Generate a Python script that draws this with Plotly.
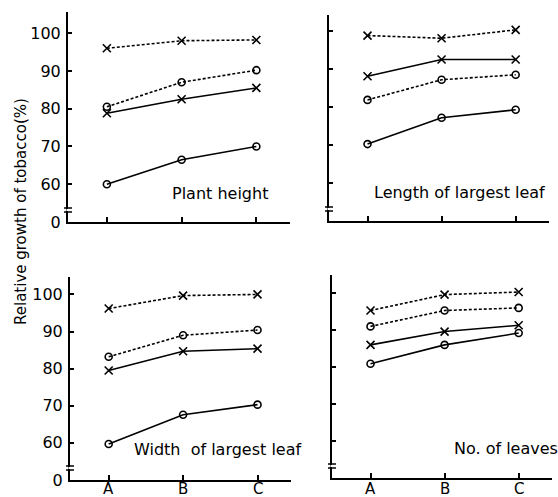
import plotly.graph_objects as go

categories = ["A", "B", "C"]
y_tick_vals = [50, 60, 70, 80, 90, 100]
y_tick_text = ["0", "60", "70", "80", "90", "100"]

# Plant height
ph_solid_o = [60.0, 66.5, 70.0]
ph_solid_x = [78.8, 82.5, 85.5]
ph_dot_o = [80.5, 87.0, 90.2]
ph_dot_x = [96.0, 98.0, 98.2]
# Length of largest leaf
ll_solid_o = [70.2, 77.1, 79.2]
ll_dot_o = [81.8, 87.1, 88.4]
ll_solid_x = [88.0, 92.4, 92.4]
ll_dot_x = [98.7, 98.0, 100.2]
# Width of largest leaf
wl_solid_o = [59.7, 67.6, 70.3]
wl_solid_x = [79.5, 84.7, 85.4]
wl_dot_o = [83.2, 89.0, 90.4]
wl_dot_x = [96.2, 99.7, 100.0]
# No. of leaves
nl_solid_o = [80.9, 86.0, 89.2]
nl_solid_x = [86.0, 89.6, 91.3]
nl_dot_o = [91.0, 95.3, 96.0]
nl_dot_x = [95.3, 99.6, 100.3]

FONT = "DejaVu Sans, Verdana, sans-serif"

panels = [
    dict(title="Plant height", data=[ph_solid_o, ph_solid_x, ph_dot_o, ph_dot_x],
         px=(68, 290), py=(12, 222), yr=(50, 105.6), labels_y=True, labels_x=False,
         tx=170, ty=193),
    dict(title="Length of largest leaf", data=[ll_solid_o, ll_solid_x, ll_dot_o, ll_dot_x],
         px=(329, 549), py=(15, 221), yr=(50, 104.1), labels_y=False, labels_x=False,
         tx=372, ty=192),
    dict(title="Width  of largest leaf", data=[wl_solid_o, wl_solid_x, wl_dot_o, wl_dot_x],
         px=(70, 291), py=(277, 480), yr=(50, 104.7), labels_y=True, labels_x=True,
         tx=132, ty=449),
    dict(title="No. of leaves", data=[nl_solid_o, nl_solid_x, nl_dot_o, nl_dot_x],
         px=(332, 552), py=(275, 478), yr=(50, 104.9), labels_y=False, labels_x=True,
         tx=452, ty=448),
]

W, H = 558, 497
styles = [
    dict(dash="solid", symbol="circle-open"),
    dict(dash="solid", symbol="x-thin-open"),
    dict(dash="3px,2px", symbol="circle-open"),
    dict(dash="3px,2px", symbol="x-thin-open"),
]

fig = go.Figure()
layout = dict(
    width=W, height=H, margin=dict(l=0, r=0, t=0, b=0, autoexpand=False),
    paper_bgcolor="white", plot_bgcolor="white", showlegend=False,
    font=dict(family=FONT, color="black"),
)
annotations = []
shapes = []
for i, p in enumerate(panels, start=1):
    xa = "x" if i == 1 else f"x{i}"
    ya = "y" if i == 1 else f"y{i}"
    for series, st in zip(p["data"], styles):
        fig.add_trace(go.Scatter(
            x=categories, y=series, xaxis=xa, yaxis=ya, mode="lines+markers",
            line=dict(color="black", width=1.6, dash=st["dash"]),
            marker=dict(symbol=st["symbol"], size=7 if "circle" in st["symbol"] else 8,
                        color="black", line=dict(color="black", width=1.6)),
            cliponaxis=False,
        ))
    xd = [p["px"][0] / W, p["px"][1] / W]
    yd = [1 - p["py"][1] / H, 1 - p["py"][0] / H]
    layout["xaxis" if i == 1 else f"xaxis{i}"] = dict(
        domain=xd, anchor=ya, type="category", range=[-0.52, 2.45],
        showline=True, linecolor="black", linewidth=2, mirror=False,
        ticks="inside", ticklen=5, tickwidth=1.5, tickcolor="black",
        showticklabels=False,
        showgrid=False, zeroline=False, fixedrange=True,
    )
    layout["yaxis" if i == 1 else f"yaxis{i}"] = dict(
        domain=yd, anchor=xa, range=list(p["yr"]),
        tickvals=y_tick_vals, ticktext=y_tick_text,
        showline=True, linecolor="black", linewidth=2,
        ticks="inside", ticklen=4, tickwidth=1.5, tickcolor="black",
        showticklabels=p["labels_y"], tickfont=dict(size=16, color="black", family=FONT),
        ticklabelstandoff=2,
        showgrid=False, zeroline=False, fixedrange=True,
    )
    if p["labels_x"]:
        for c in categories:
            annotations.append(dict(
                text=c, x=c, xref=xa, y=1 - 489 / H, yref="paper",
                xanchor="center", yanchor="middle", showarrow=False,
                font=dict(size=15, color="black", family=FONT),
            ))
    annotations.append(dict(
        text=p["title"], x=p["tx"] / W, y=1 - p["ty"] / H, xref="paper", yref="paper",
        xanchor="left", yanchor="middle", showarrow=False,
        font=dict(size=16, color="black", family=FONT),
    ))
    # axis break marks near bottom of y axis
    ax_x = p["px"][0] / W
    for off in (10, 14):
        yy = 1 - (p["py"][1] - off) / H
        shapes.append(dict(type="line", xref="paper", yref="paper",
                           x0=ax_x - 4 / W, x1=ax_x + 4 / W, y0=yy, y1=yy,
                           line=dict(color="black", width=1.5)))
    shapes.append(dict(type="line", xref="paper", yref="paper",
                       x0=ax_x, x1=ax_x, y0=1 - (p["py"][1] - 13) / H, y1=1 - (p["py"][1] - 11) / H,
                       line=dict(color="white", width=3)))

annotations.append(dict(
    text="Relative growth of tobacco(%)", x=21 / W, y=1 - 212 / H, xref="paper", yref="paper",
    textangle=-90, showarrow=False, xanchor="center", yanchor="middle",
    font=dict(size=15, color="black", family=FONT),
))
layout["annotations"] = annotations
layout["shapes"] = shapes
fig.update_layout(**layout)
fig.write_html("out.html", config={"displayModeBar": False},
               post_script="document.body.style.margin='0';document.body.style.overflow='hidden';")
